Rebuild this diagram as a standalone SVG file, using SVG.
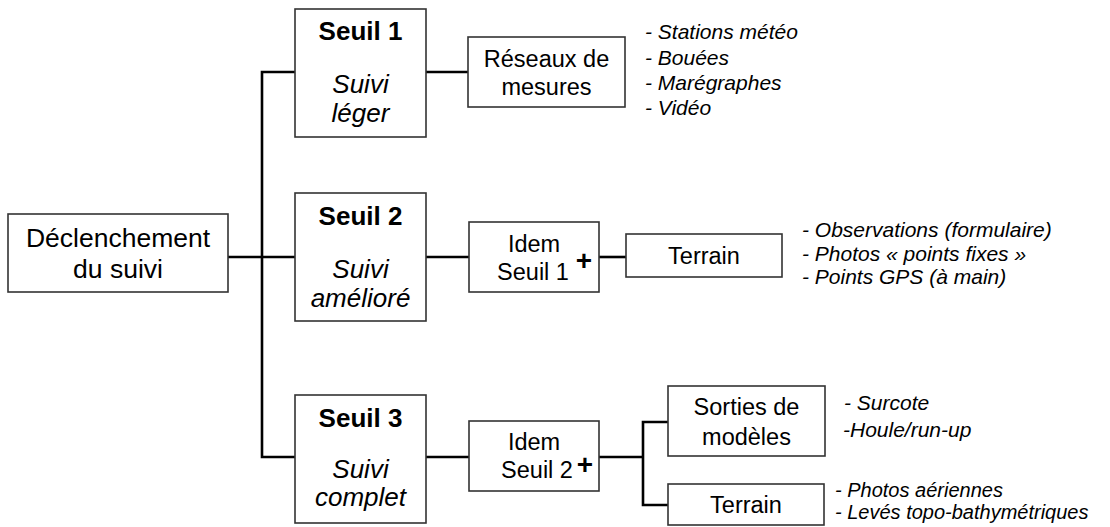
<svg xmlns="http://www.w3.org/2000/svg" width="1110" height="527" viewBox="0 0 1110 527">
<style>
.box{fill:#fff;stroke:#333;stroke-width:1.6}
.c{fill:none;stroke:#000;stroke-width:2.6}
text{font-family:"Liberation Sans",Arial,sans-serif;fill:#000}
.big{font-size:26.5px;text-anchor:middle}
.sb{font-size:26px;font-weight:bold;text-anchor:middle}
.si{font-size:26px;font-style:italic;text-anchor:middle}
.sm{font-size:23.5px;text-anchor:middle}
.plus{font-size:28px;font-weight:bold;text-anchor:middle}
.li{font-size:21px;font-style:italic}
.ls{font-size:20px;font-style:italic}
</style>
<rect width="1110" height="527" fill="#fff"/>
<g id="connectors">
<path class="c" d="M228,257H295"/>
<path class="c" d="M295,72H262V457H295"/>
<path class="c" d="M426,72H468"/>
<path class="c" d="M426,257H469"/>
<path class="c" d="M599,257H626"/>
<path class="c" d="M426,457H469"/>
<path class="c" d="M599,457H643"/>
<path class="c" d="M668,422H643V505H668"/>
</g>
<g id="declenchement">
<rect class="box" x="8" y="214" width="220" height="78"/>
<text class="big" x="118" y="247">Déclenchement</text>
<text class="big" x="118" y="278">du suivi</text>
</g>
<g id="seuil1">
<rect class="box" x="295" y="9" width="131" height="128"/>
<text class="sb" x="360.5" y="40">Seuil 1</text>
<text class="si" x="360.5" y="93">Suivi</text>
<text class="si" x="360.5" y="122">léger</text>
</g>
<g id="seuil2">
<rect class="box" x="295" y="193" width="131" height="128"/>
<text class="sb" x="360.5" y="225">Seuil 2</text>
<text class="si" x="360.5" y="278">Suivi</text>
<text class="si" x="360.5" y="307">amélioré</text>
</g>
<g id="seuil3">
<rect class="box" x="295" y="395" width="131" height="128"/>
<text class="sb" x="360.5" y="427">Seuil 3</text>
<text class="si" x="360.5" y="478">Suivi</text>
<text class="si" x="360.5" y="506">complet</text>
</g>
<g id="reseaux">
<rect class="box" x="468" y="37" width="157" height="70"/>
<text class="sm" x="546.5" y="67">Réseaux de</text>
<text class="sm" x="546.5" y="95">mesures</text>
</g>
<g id="liste1">
<text class="li" x="645" y="39">- Stations météo</text>
<text class="li" x="645" y="65">- Bouées</text>
<text class="li" x="645" y="90">- Marégraphes</text>
<text class="li" x="645" y="115">- Vidéo</text>
</g>
<g id="idem1">
<rect class="box" x="469" y="222" width="130" height="70"/>
<text class="sm" x="534" y="252">Idem</text>
<text class="sm" x="533" y="280">Seuil 1</text>
<text class="plus" x="584" y="270">+</text>
</g>
<g id="terrain1">
<rect class="box" x="626" y="234" width="156" height="43"/>
<text class="sm" x="704" y="264">Terrain</text>
</g>
<g id="liste2">
<text class="li" x="802" y="237">- Observations (formulaire)</text>
<text class="li" x="802" y="261">- Photos « points fixes »</text>
<text class="li" x="802" y="284">- Points GPS (à main)</text>
</g>
<g id="idem2">
<rect class="box" x="469" y="421" width="130" height="70"/>
<text class="sm" x="534" y="450">Idem</text>
<text class="sm" x="537" y="478">Seuil 2</text>
<text class="plus" x="585" y="474">+</text>
</g>
<g id="sorties">
<rect class="box" x="668" y="386" width="157" height="70"/>
<text class="sm" x="746.5" y="415">Sorties de</text>
<text class="sm" x="746.5" y="445">modèles</text>
</g>
<g id="liste3">
<text class="li" x="844" y="410">- Surcote</text>
<text class="li" x="843" y="437">-Houle/run-up</text>
</g>
<g id="terrain2">
<rect class="box" x="668" y="484" width="156" height="41"/>
<text class="sm" x="746" y="513">Terrain</text>
</g>
<g id="liste4">
<text class="ls" x="835" y="497">- Photos aériennes</text>
<text class="ls" x="835" y="519">- Levés topo-bathymétriques</text>
</g>
</svg>
